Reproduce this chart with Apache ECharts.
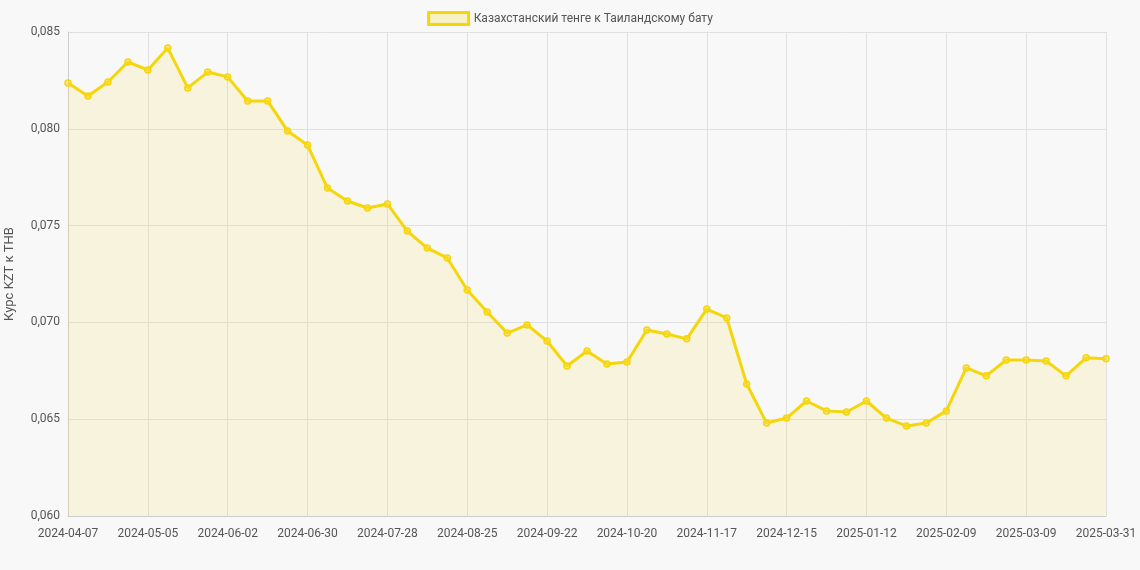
<!DOCTYPE html>
<html><head><meta charset="utf-8">
<script src="https://cdn.jsdelivr.net/npm/echarts@6/dist/echarts.min.js"></script>
<style>html,body{margin:0;background:#f8f8f8}#c{width:1140px;height:570px}</style>
</head><body><div id="c"></div>
<script>
// даты (неделя)
const dates = [
  '2024-04-07','2024-04-14','2024-04-21','2024-04-28','2024-05-05','2024-05-12','2024-05-19','2024-05-26',
  '2024-06-02','2024-06-09','2024-06-16','2024-06-23','2024-06-30','2024-07-07','2024-07-14','2024-07-21',
  '2024-07-28','2024-08-04','2024-08-11','2024-08-18','2024-08-25','2024-09-01','2024-09-08','2024-09-15',
  '2024-09-22','2024-09-29','2024-10-06','2024-10-13','2024-10-20','2024-10-27','2024-11-03','2024-11-10',
  '2024-11-17','2024-11-24','2024-12-01','2024-12-08','2024-12-15','2024-12-22','2024-12-29','2025-01-05',
  '2025-01-12','2025-01-19','2025-01-26','2025-02-02','2025-02-09','2025-02-16','2025-02-23','2025-03-02',
  '2025-03-09','2025-03-16','2025-03-23','2025-03-30','2025-03-31'
];
const rates = [
  0.08237,0.08169,0.08242,0.08345,0.08304,0.08417,0.08211,0.08293,
  0.08268,0.08144,0.08144,0.07989,0.07916,0.07694,0.07627,0.07591,
  0.07612,0.07472,0.07384,0.07333,0.07167,0.07054,0.06945,0.06987,
  0.06904,0.06775,0.06852,0.06785,0.06795,0.06961,0.06940,0.06915,
  0.07069,0.07023,0.06682,0.06480,0.06506,0.06594,0.06543,0.06537,
  0.06594,0.06506,0.06465,0.06480,0.06543,0.06765,0.06724,0.06806,
  0.06806,0.06801,0.06724,0.06817,0.06812
];
const seriesName = 'Казахстанский тенге к Таиландскому бату';

const chart = echarts.init(document.getElementById('c'));
chart.setOption({
  backgroundColor: '#f8f8f8',
  textStyle: { fontFamily: 'Roboto, "Open Sans", sans-serif' },
  legend: {
    top: 6, itemWidth: 40, itemHeight: 12, icon: 'rect',
    textStyle: { color: '#555', fontSize: 12 },
    data: [{ name: seriesName, itemStyle: { color: 'rgba(250,215,0,0.2)', borderColor: '#f5d60a', borderWidth: 3 } }]
  },
  grid: { left: 68, right: 34, top: 32, bottom: 54, outerBoundsMode: 'none', containLabel: false },
  xAxis: {
    type: 'category', data: dates, boundaryGap: false,
    axisLine: { lineStyle: { color: '#ccc' } },
    axisTick: { show: false },
    axisLabel: {
      color: '#555', fontSize: 12, margin: 12,
      interval: (i) => i % 4 === 0 || i === dates.length - 1
    },
    splitLine: { show: true, interval: (i) => i % 4 === 0 || i === dates.length - 1, lineStyle: { color: '#e0e0e0' } }
  },
  yAxis: {
    type: 'value', min: 0.06, max: 0.085, interval: 0.005,
    name: 'Курс KZT к THB', nameLocation: 'middle', nameGap: 52,
    nameTextStyle: { color: '#555', fontSize: 13 },
    axisLine: { show: true, lineStyle: { color: '#ccc' } },
    axisLabel: { color: '#555', fontSize: 12, formatter: v => v.toFixed(3).replace('.', ',') },
    splitLine: { lineStyle: { color: '#e0e0e0' } }
  },
  series: [{
    name: seriesName, type: 'line', data: rates,
    symbol: 'circle', symbolSize: 6,
    itemStyle: { color: 'rgba(250,220,60,0.5)', borderColor: '#f5d60a', borderWidth: 1.5 },
    lineStyle: { color: '#f5d60a', width: 3 },
    areaStyle: { color: 'rgba(245,215,60,0.2)' }
  }]
});
</script></body></html>
